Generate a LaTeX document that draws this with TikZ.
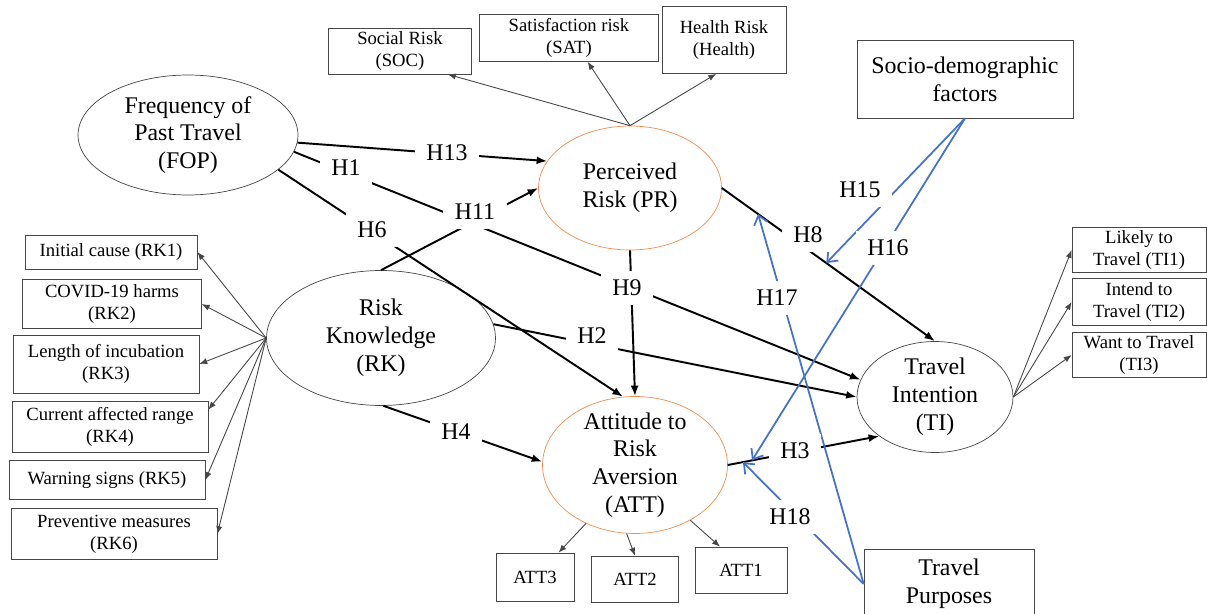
\documentclass[tikz,border=0pt]{standalone}
\usepackage{fontspec}
\setmainfont{Liberation Serif}
\usetikzlibrary{arrows.meta,shapes.geometric}
\definecolor{modblue}{RGB}{68,114,196}
\definecolor{riskorange}{RGB}{240,140,80}
\definecolor{linegray}{RGB}{70,70,70}
\newcommand{\bigtxt}{\fontsize{13.6}{15.8}\selectfont}
\newcommand{\smalltxt}{\fontsize{10.6}{12.4}\selectfont}
\begin{document}
\begin{tikzpicture}[x=0.02cm,y=-0.02cm,
  latent/.style={ellipse,draw=linegray,thin,inner sep=-4pt,align=center,font=\bigtxt},
  risk/.style={latent,draw=riskorange},
  indicator/.style={rectangle,draw=linegray,thin,inner sep=0pt,align=center,font=\smalltxt},
  groupbox/.style={indicator,font=\bigtxt},
  effect/.style={-{Latex[length=6pt,width=4.5pt]},line width=1.1pt},
  loading/.style={-{Latex[length=4.5pt,width=3.5pt]},draw=linegray,line width=0.5pt},
  moderate/.style={-{Straight Barb[length=5pt,width=8pt]},draw=modblue,line width=1pt},
  hyp/.style={fill=white,inner xsep=6.5pt,inner ysep=5pt,font=\bigtxt}]
\useasboundingbox (0,0) rectangle (1207,614);
\clip (0,0) rectangle (1207,614);
\node[latent,minimum width=4.4cm,minimum height=2.4cm] (vFOP) at (188,135) {Frequency of\\Past Travel\\(FOP)};
\node[risk,minimum width=3.66cm,minimum height=2.48cm] (vPR) at (630,188) {Perceived\\Risk (PR)};
\node[latent,minimum width=4.58cm,minimum height=2.7cm] (vRK) at (381,338) {Risk\\Knowledge\\(RK)};
\node[risk,minimum width=3.7cm,minimum height=2.74cm] (vATT) at (635,465) {Attitude to\\Risk\\Aversion\\(ATT)};
\node[latent,minimum width=3.12cm,minimum height=2.22cm] (vTI) at (935,397) {Travel\\Intention\\(TI)};
\node[indicator,minimum width=2.86cm,minimum height=0.92cm] (vSOC) at (400,51) {Social Risk\\(SOC)};
\node[indicator,minimum width=3.58cm,minimum height=0.94cm] (vSAT) at (569,38) {Satisfaction risk\\(SAT)};
\node[indicator,minimum width=2.48cm,minimum height=1.34cm] (vHealth) at (724,40) {Health Risk\\(Health)};
\node[groupbox,minimum width=4.32cm,minimum height=1.56cm] (vSD) at (965,79) {Socio-demographic\\factors};
\node[groupbox,minimum width=3.4cm,minimum height=1.4cm] (vTP) at (949,584) {Travel\\Purposes};
\node[indicator,minimum width=2.68cm,minimum height=0.9cm] (vTI1) at (1139,250) {Likely to\\Travel (TI1)};
\node[indicator,minimum width=2.68cm,minimum height=0.94cm] (vTI2) at (1139,302) {Intend to\\Travel (TI2)};
\node[indicator,minimum width=2.68cm,minimum height=0.9cm] (vTI3) at (1139,355) {Want to Travel\\(TI3)};
\node[indicator,minimum width=3.44cm,minimum height=0.68cm] (vRK1) at (111,252) {Initial cause (RK1)};
\node[indicator,minimum width=3.58cm,minimum height=0.98cm] (vRK2) at (112,304) {COVID-19 harms\\(RK2)};
\node[indicator,minimum width=3.72cm,minimum height=1.16cm] (vRK3) at (106,364) {Length of incubation\\(RK3)};
\node[indicator,minimum width=3.92cm,minimum height=1.02cm] (vRK4) at (110,427) {Current affected range\\(RK4)};
\node[indicator,minimum width=3.92cm,minimum height=0.78cm] (vRK5) at (107,480) {Warning signs (RK5)};
\node[indicator,minimum width=4.12cm,minimum height=1.02cm] (vRK6) at (114,534) {Preventive measures\\(RK6)};
\node[indicator,minimum width=1.56cm,minimum height=0.96cm] (vATT3) at (535,577) {ATT3};
\node[indicator,minimum width=1.74cm,minimum height=0.92cm] (vATT2) at (635,579) {ATT2};
\node[indicator,minimum width=1.84cm,minimum height=0.92cm] (vATT1) at (741,570) {ATT1};
\draw (vRK.180) edge[loading] (vRK1.east) edge[loading] (vRK2.east) edge[loading] (vRK3.east) edge[loading] (vRK4.10) edge[loading] (vRK5.east) edge[loading] (vRK6.east);
\draw (vPR.90) edge[loading] (vSOC.-26) edge[loading] (vSAT.-52) edge[loading] (vHealth.-103);
\draw (vATT.230) edge[loading] (vATT3.46);
\draw (vATT.-97) edge[loading] (vATT2.north);
\draw (vATT.-45) edge[loading] (vATT1.132);
\draw (vTI.0) edge[loading] (vTI1.west) edge[loading] (vTI2.west) edge[loading] (vTI3.west);
\draw (vFOP.-4) edge[effect] (vPR.162);
\draw (vFOP.-9.5) edge[effect] (vTI.167);
\draw (vFOP.-21) edge[effect] (vATT.100);
\draw (vRK.90) edge[effect] (vPR.180);
\draw (vRK.7.6) edge[effect] (vTI.180);
\draw (vRK.-88) edge[effect] (vATT.178);
\draw (vPR.-90) edge[effect] (vATT.90);
\draw[effect] (vPR.0) -- coordinate[pos=0.17] (m17) coordinate[pos=0.49] (m15) (vTI.90);
\draw[effect] (vATT.0) -- coordinate[pos=0.16] (m16) coordinate[pos=0.1] (m18) (vTI.215);
\draw (vSD.south) edge[moderate] (m15) edge[moderate] (m16);
\draw (vTP.west) edge[moderate] (m17) edge[moderate] (m18);
\node[hyp] (h13) at (447,153) {H13};
\node[hyp] (h1) at (346,168) {H1};
\node[hyp] (h6) at (372,230) {H6};
\node[hyp] (h11) at (475,212) {H11};
\node[hyp] (h9) at (627,288) {H9};
\node[hyp] (h2) at (592,336) {H2};
\node[hyp] (h4) at (456,432) {H4};
\node[hyp] (h3) at (795,451) {H3};
\node[hyp] (h8) at (808,235) {H8};
\node[hyp] (h15) at (860,190) {H15};
\node[hyp] (h16) at (888,248) {H16};
\node[hyp] (h17) at (777,298) {H17};
\node[hyp] (h18) at (790,517) {H18};
\end{tikzpicture}
\end{document}
